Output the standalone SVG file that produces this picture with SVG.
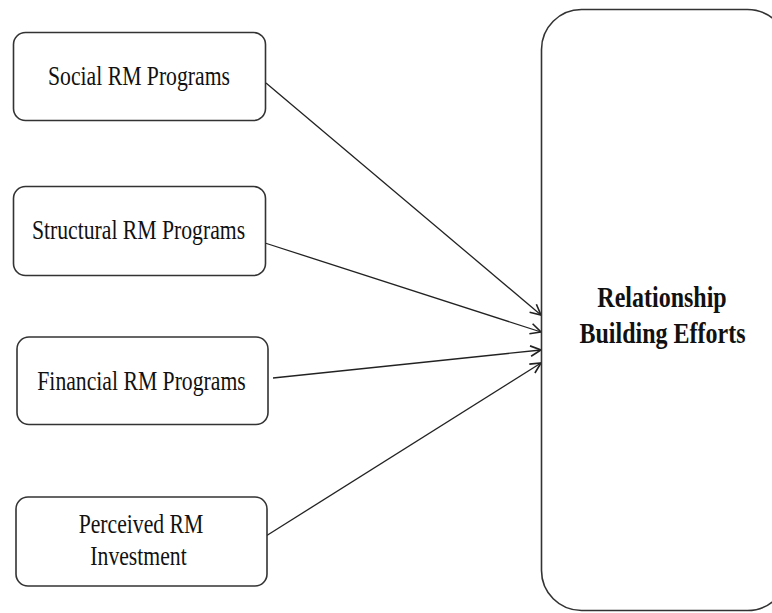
<svg xmlns="http://www.w3.org/2000/svg" width="772" height="613" viewBox="0 0 772 613">
<style>
.box{fill:#fff;stroke:#333;stroke-width:1.6}
.lbl{font-family:"Liberation Serif","Times New Roman",serif;font-size:21.7px;fill:#111;text-anchor:middle}
.big{font-family:"Liberation Serif","Times New Roman",serif;font-size:24px;font-weight:bold;fill:#111;text-anchor:middle}
.con{stroke:#222;stroke-width:1.3;fill:none;marker-end:url(#ah)}
</style>
<defs>
<marker id="ah" markerUnits="userSpaceOnUse" markerWidth="14" markerHeight="14" viewBox="-10 -6 12 12" refX="0" refY="0" orient="auto">
<path d="M-9,-4.5 L0,0 L-9,4.5" fill="none" stroke="#222" stroke-width="1.4"/>
</marker>
</defs>
<rect width="772" height="613" fill="#fff"/>
<g id="connectors">
<line class="con" x1="266" y1="83" x2="541" y2="315"/>
<line class="con" x1="265" y1="243" x2="541" y2="332"/>
<line class="con" x1="273" y1="378" x2="541" y2="350"/>
<line class="con" x1="266" y1="536" x2="541" y2="363"/>
</g>
<g id="social">
<rect class="box" x="13.5" y="32.5" width="252" height="88" rx="12"/>
<text class="lbl" transform="translate(139,85) scale(1,1.25)">Social RM Programs</text>
</g>
<g id="structural">
<rect class="box" x="13.5" y="186.5" width="252" height="89" rx="12"/>
<text class="lbl" transform="translate(138.5,239) scale(1,1.25)">Structural RM Programs</text>
</g>
<g id="financial">
<rect class="box" x="17" y="337" width="251" height="87.5" rx="12"/>
<text class="lbl" transform="translate(141.5,390) scale(1,1.25)">Financial RM Programs</text>
</g>
<g id="perceived">
<rect class="box" x="16" y="497" width="251" height="89" rx="12"/>
<text class="lbl" transform="translate(141,533) scale(1,1.25)">Perceived RM</text>
<text class="lbl" transform="translate(138.5,565) scale(1,1.25)">Investment</text>
</g>
<g id="relationship">
<rect class="box" x="541.5" y="9.5" width="246" height="601" rx="40"/>
<text class="big" transform="translate(662,307) scale(1,1.25)">Relationship</text>
<text class="big" transform="translate(662.5,343) scale(1,1.25)">Building Efforts</text>
</g>
</svg>
